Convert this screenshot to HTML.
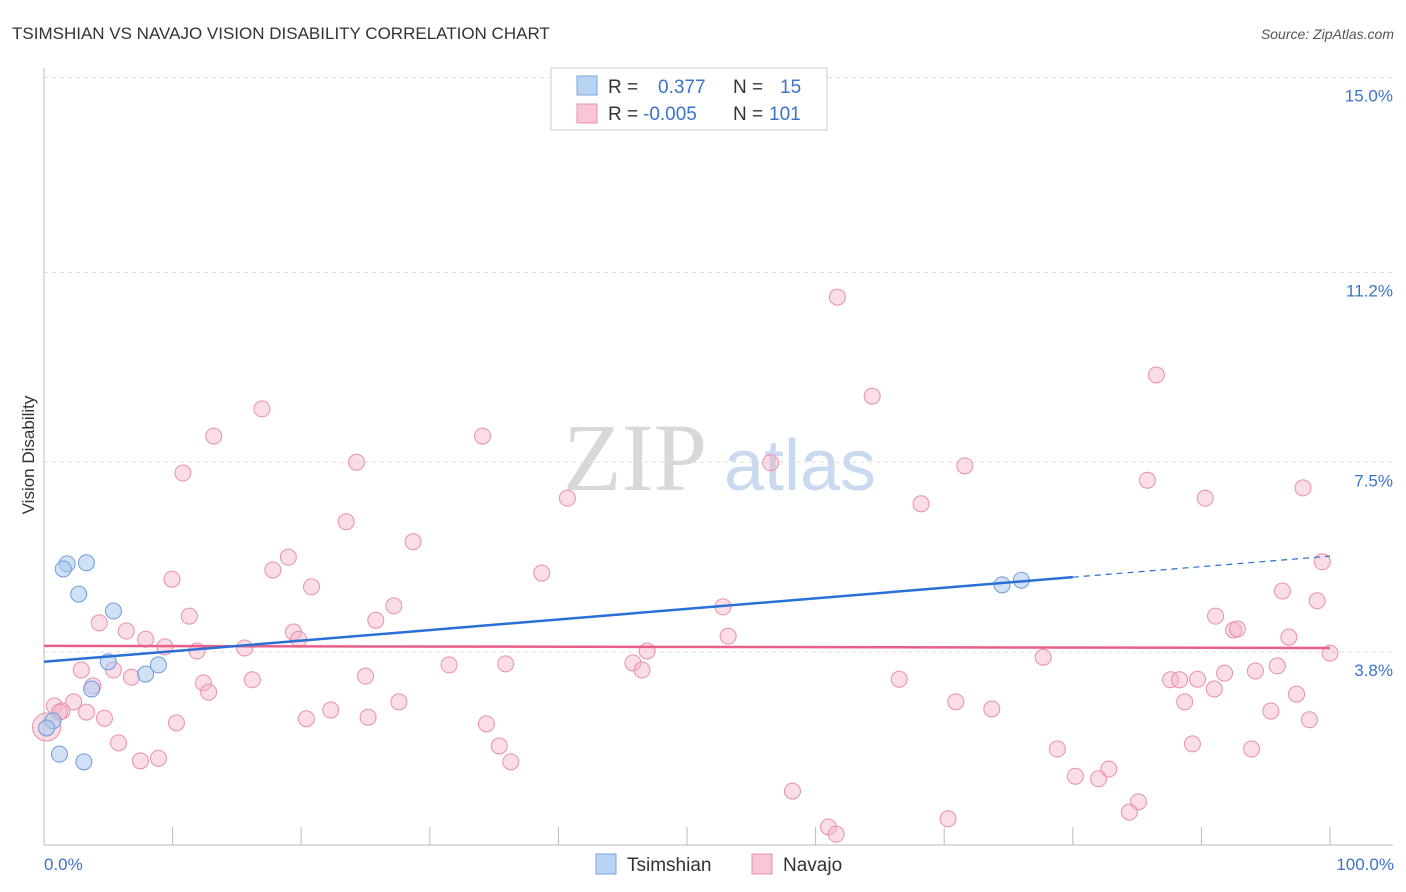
<!DOCTYPE html>
<html><head><meta charset="utf-8"><style>
body{margin:0;background:#fff;font-family:"Liberation Sans",sans-serif;}
svg{display:block}
</style></head><body>
<svg id="chart" width="1406" height="892" viewBox="0 0 1406 892">
<text x="12" y="39" font-size="17" fill="#333">TSIMSHIAN VS NAVAJO VISION DISABILITY CORRELATION CHART</text>
<text x="1394" y="39" font-size="14" fill="#555" font-style="italic" text-anchor="end">Source: ZipAtlas.com</text>
<g>
<text x="635" y="490" font-size="96" fill="#d8d8d8" font-family="Liberation Serif,serif" text-anchor="middle">ZIP</text>
<text x="800" y="490" font-size="72" fill="#c9d9f0" text-anchor="middle">atlas</text>
</g>
<g id="grid"></g>
<g id="axes"></g>
<g id="marks"></g>
<text x="34" y="455" font-size="17" fill="#333" text-anchor="middle" transform="rotate(-90 34 455)">Vision Disability</text>
<text x="44" y="870" font-size="17" fill="#3b73c8">0.0%</text>
<text x="1394" y="870" font-size="17" fill="#3b73c8" text-anchor="end">100.0%</text>
<g>
<rect x="551" y="68" width="276" height="62" fill="#fff" stroke="#ccc"/>
<rect x="577" y="76" width="20" height="19" fill="#b9d3f3" stroke="#7aa5dd"/>
<rect x="577" y="104" width="20" height="19" fill="#f8c6d4" stroke="#e890ab"/>
<text x="608" y="93" font-size="19" fill="#333">R = </text><text x="658" y="93" font-size="19" fill="#3b73c8">0.377</text>
<text x="733" y="93" font-size="19" fill="#333">N = </text><text x="780" y="93" font-size="19" fill="#3b73c8">15</text>
<text x="608" y="120" font-size="19" fill="#333">R = </text><text x="643" y="120" font-size="19" fill="#3b73c8">-0.005</text>
<text x="733" y="120" font-size="19" fill="#333">N = </text><text x="769" y="120" font-size="19" fill="#3b73c8">101</text>
</g>
<g>
<rect x="596" y="854" width="20" height="20" fill="#b9d3f3" stroke="#7aa5dd"/>
<text x="627" y="871" font-size="19" fill="#333">Tsimshian</text>
<rect x="752" y="854" width="20" height="20" fill="#f8c6d4" stroke="#e890ab"/>
<text x="783" y="871" font-size="19" fill="#333">Navajo</text>
</g>
</svg>
<script>
const yTicks=[3.8,7.5,11.2,15.0];
const yTickLabels=["3.8%","7.5%","11.2%","15.0%"];
const xTicks=[10,20,30,40,50,60,70,80,90,100];
const tsX=[1.8,1.5,3.3,2.7,5.4,5.0,8.9,7.9,3.7,0.7,0.2,1.2,3.1,74.5,76.0];
const tsY=[5.52,5.42,5.54,4.93,4.60,3.61,3.55,3.37,3.08,2.46,2.32,1.81,1.66,5.11,5.20];
const nvX=[61.7,86.5,64.4,16.95,13.2,34.1,24.3,56.5,71.6,10.8,85.8,97.9,40.7,90.3,68.2,23.5,28.7,19.0,17.8,38.7,9.95,20.8,99.4,96.3,99.0,27.2,52.8,11.3,25.8,91.1,4.3,6.4,19.4,92.5,92.8,19.8,7.9,9.4,15.6,11.9,53.2,96.8,46.9,100.0,77.7,31.5,35.9,45.8,46.5,2.9,5.4,95.9,94.2,91.8,6.8,25.0,16.2,12.4,66.5,87.6,88.3,89.7,3.8,12.8,91.0,97.4,0.8,2.3,27.6,70.9,88.7,1.4,3.3,22.3,73.7,95.4,4.7,20.4,25.2,10.3,34.4,98.4,5.8,35.4,78.8,89.3,93.9,7.5,8.9,36.3,82.8,80.2,82.0,58.2,85.1,84.4,70.3,61.0,61.6,0.2,1.2];
const nvY=[10.72,9.20,8.79,8.54,8.01,8.01,7.50,7.49,7.43,7.29,7.15,7.00,6.80,6.80,6.69,6.34,5.95,5.65,5.40,5.34,5.22,5.07,5.56,4.99,4.80,4.70,4.68,4.50,4.42,4.50,4.37,4.21,4.19,4.23,4.25,4.05,4.05,3.90,3.88,3.82,4.11,4.09,3.82,3.78,3.70,3.55,3.57,3.59,3.45,3.45,3.45,3.53,3.43,3.39,3.31,3.33,3.26,3.20,3.27,3.26,3.26,3.27,3.14,3.02,3.08,2.98,2.75,2.83,2.83,2.83,2.83,2.65,2.63,2.67,2.69,2.65,2.51,2.50,2.53,2.42,2.40,2.48,2.03,1.97,1.91,2.01,1.91,1.68,1.73,1.66,1.52,1.38,1.33,1.09,0.88,0.68,0.55,0.39,0.25,2.34,2.63];
const tsTrend=[3.61,5.26,5.67];   // at x=0, 80 (end of solid), 100
const tsTrendX=[0,80,100];
const nvTrend=[3.92,3.88];
const nvTrendX=[0,100];

const NS="http://www.w3.org/2000/svg";
const X=v=>44+v*12.86;
const Y=v=>847-v*51.3;
function mk(tag,attrs,parent){const e=document.createElementNS(NS,tag);for(const k in attrs)e.setAttribute(k,attrs[k]);document.getElementById(parent).appendChild(e);return e;}
yTicks.forEach((t,i)=>{
  const l=mk('line',{x1:44,x2:1393,y1:Y(t),y2:Y(t),stroke:'#ddd','stroke-dasharray':'4 4'},'grid');
  
  
  const tx=mk('text',{x:1393,y:Y(t)+24,'font-size':17,fill:'#3b73c8','text-anchor':'end'},'axes');
  tx.textContent=yTickLabels[i];
  
  
});
const ax=mk('line',{x1:44,x2:44,y1:68,y2:845,stroke:'#bbb'},'axes');


const bx=mk('line',{x1:44,x2:1393,y1:845,y2:845,stroke:'#bbb'},'axes');


xTicks.forEach(t=>{
  const l=mk('line',{x1:X(t),x2:X(t),y1:827,y2:845,stroke:'#bbb'},'axes');
  
  
});
nvX.forEach((x,i)=>{
  const big=(i===nvX.length-2);
  const c=mk('circle',{cx:X(x),cy:Y(nvY[i]),r:big?14:8,fill:'#f5b3c7','fill-opacity':0.45,stroke:'#e890ab','stroke-width':1},'marks');
  
  
});
tsX.forEach((x,i)=>{
  const c=mk('circle',{cx:X(x),cy:Y(tsY[i]),r:8,fill:'#a9c8ef','fill-opacity':0.55,stroke:'#6f9bd8','stroke-width':1},'marks');
  
  
});
const pl=mk('line',{x1:X(nvTrendX[0]),y1:Y(nvTrend[0]),x2:X(nvTrendX[1]),y2:Y(nvTrend[1]),stroke:'#e8608a','stroke-width':2.5},'marks');


const bl=mk('line',{x1:X(tsTrendX[0]),y1:Y(tsTrend[0]),x2:X(tsTrendX[1]),y2:Y(tsTrend[1]),stroke:'#2a6fd6','stroke-width':2.5},'marks');


const bd=mk('line',{x1:X(tsTrendX[1]),y1:Y(tsTrend[1]),x2:X(tsTrendX[2]),y2:Y(tsTrend[2]),stroke:'#2a6fd6','stroke-width':1.2,'stroke-dasharray':'6 5'},'marks');


</script>
</body></html>
